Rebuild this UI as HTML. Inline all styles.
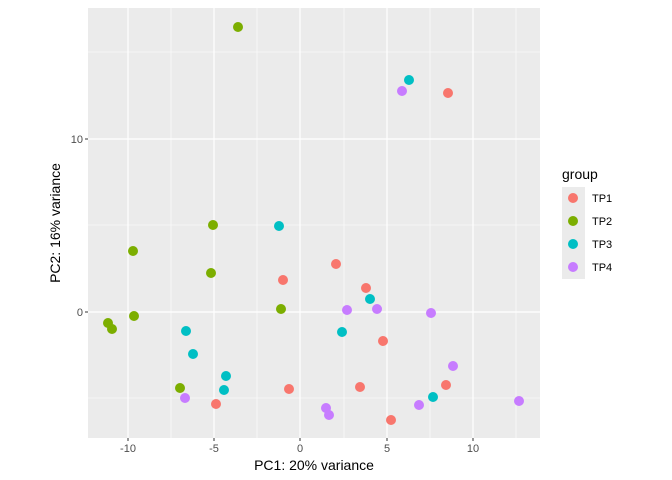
<!DOCTYPE html>
<html><head><meta charset="utf-8"><style>body{margin:0;background:#fff}svg{display:block}</style></head><body>
<svg width="672" height="480" xmlns="http://www.w3.org/2000/svg" font-family="Liberation Sans, sans-serif">
<rect x="88" y="8" width="452" height="430" fill="#EBEBEB"/>
<g stroke="#fff" stroke-width="0.6">
<line x1="171" y1="8" x2="171" y2="438"/><line x1="257" y1="8" x2="257" y2="438"/><line x1="344" y1="8" x2="344" y2="438"/><line x1="430" y1="8" x2="430" y2="438"/><line x1="516" y1="8" x2="516" y2="438"/>
<line x1="88" y1="52" x2="540" y2="52"/><line x1="88" y1="225" x2="540" y2="225"/><line x1="88" y1="398" x2="540" y2="398"/>
</g>
<g stroke="#fff" stroke-width="1.2">
<line x1="128" y1="8" x2="128" y2="438"/><line x1="214" y1="8" x2="214" y2="438"/><line x1="300" y1="8" x2="300" y2="438"/><line x1="387" y1="8" x2="387" y2="438"/><line x1="473" y1="8" x2="473" y2="438"/>
<line x1="88" y1="139" x2="540" y2="139"/><line x1="88" y1="312" x2="540" y2="312"/>
</g>
<g stroke="#333" stroke-width="1">
<line x1="128" y1="438" x2="128" y2="441"/><line x1="214" y1="438" x2="214" y2="441"/><line x1="300" y1="438" x2="300" y2="441"/><line x1="387" y1="438" x2="387" y2="441"/><line x1="473" y1="438" x2="473" y2="441"/>
<line x1="85" y1="139" x2="88" y2="139"/><line x1="85" y1="312" x2="88" y2="312"/>
</g>
<g font-size="11" fill="#4D4D4D" text-anchor="middle">
<text x="128" y="452">-10</text><text x="214" y="452">-5</text><text x="300" y="452">0</text><text x="387" y="452">5</text><text x="473" y="452">10</text>
<text x="83" y="143" text-anchor="end">10</text><text x="83" y="316" text-anchor="end">0</text>
</g>
<text x="314" y="470" font-size="14" text-anchor="middle">PC1: 20% variance</text>
<text transform="translate(60,223) rotate(-90)" font-size="14" text-anchor="middle">PC2: 16% variance</text>
<g fill="#F8766D"><circle cx="448" cy="93" r="5"/><circle cx="283" cy="280" r="5"/><circle cx="336" cy="264" r="5"/><circle cx="366" cy="288" r="5"/><circle cx="383" cy="341" r="5"/><circle cx="289" cy="389" r="5"/><circle cx="216" cy="404" r="5"/><circle cx="360" cy="387" r="5"/><circle cx="446" cy="385" r="5"/><circle cx="391" cy="420" r="5"/></g>
<g fill="#7CAE00"><circle cx="238" cy="27" r="5"/><circle cx="213" cy="225" r="5"/><circle cx="133" cy="251" r="5"/><circle cx="211" cy="273" r="5"/><circle cx="281" cy="309" r="5"/><circle cx="134" cy="316" r="5"/><circle cx="108" cy="323" r="5"/><circle cx="112" cy="329" r="5"/><circle cx="180" cy="388" r="5"/></g>
<g fill="#00BFC4"><circle cx="409" cy="80" r="5"/><circle cx="279" cy="226" r="5"/><circle cx="370" cy="299" r="5"/><circle cx="342" cy="332" r="5"/><circle cx="186" cy="331" r="5"/><circle cx="193" cy="354" r="5"/><circle cx="226" cy="376" r="5"/><circle cx="224" cy="390" r="5"/><circle cx="433" cy="397" r="5"/></g>
<g fill="#C77CFF"><circle cx="402" cy="91" r="5"/><circle cx="347" cy="310" r="5"/><circle cx="377" cy="309" r="5"/><circle cx="431" cy="313" r="5"/><circle cx="453" cy="366" r="5"/><circle cx="185" cy="398" r="5"/><circle cx="326" cy="408" r="5"/><circle cx="329" cy="415" r="5"/><circle cx="419" cy="405" r="5"/><circle cx="519" cy="401" r="5"/></g>
<text x="562" y="179" font-size="14">group</text>
<rect x="562" y="187" width="23" height="92" fill="#EBEBEB"/>
<circle cx="573" cy="198" r="5" fill="#F8766D"/><circle cx="573" cy="221" r="5" fill="#7CAE00"/><circle cx="573" cy="244" r="5" fill="#00BFC4"/><circle cx="573" cy="267" r="5" fill="#C77CFF"/>
<g font-size="11" fill="#000"><text x="592" y="202">TP1</text><text x="592" y="225">TP2</text><text x="592" y="248">TP3</text><text x="592" y="271">TP4</text></g>
</svg>
</body></html>
